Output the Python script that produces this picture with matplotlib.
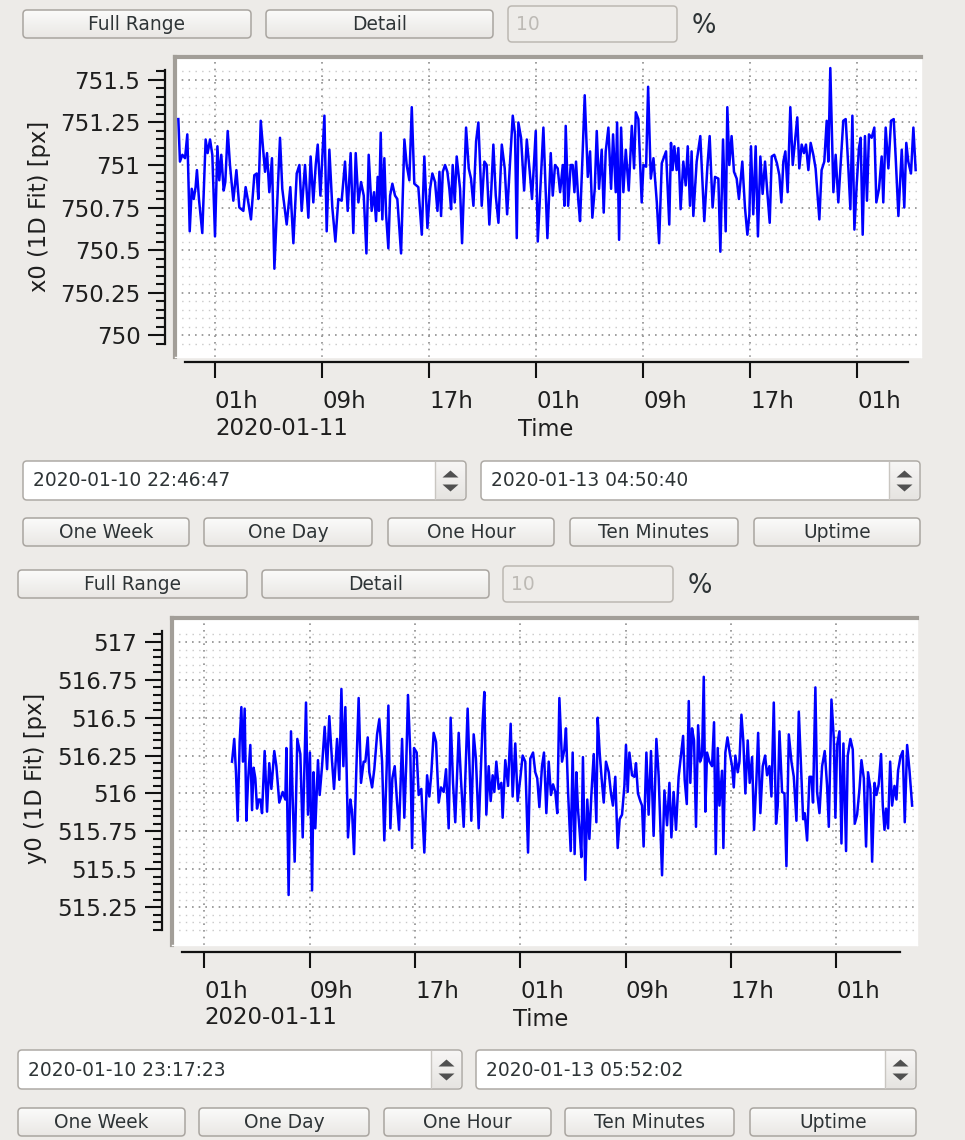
import numpy as np
import matplotlib
matplotlib.use('Agg')
import matplotlib.pyplot as plt
import matplotlib.dates as mdates
import matplotlib.transforms as mtransforms
from matplotlib.patches import FancyBboxPatch, Polygon
from matplotlib.ticker import FixedLocator, FixedFormatter
from matplotlib.colors import LinearSegmentedColormap

plt.rcParams['font.family'] = ['DejaVu Sans']

# ---------------- data (hours relative to 2020-01-11 01:00) ----------------
x0_hours = [
    -2.74, -2.62, -2.44, -2.24, -2.07, -1.89, -1.74, -1.59, -1.45, -1.35,
    -1.20, -0.95, -0.70, -0.55, -0.37, -0.20, 0.00, 0.18, 0.32, 0.47,
    0.65, 0.77, 0.95, 1.12, 1.37, 1.60, 1.82, 2.12, 2.29, 2.49,
    2.69, 2.94, 3.12, 3.24, 3.42, 3.61, 3.74, 3.89, 4.06, 4.26,
    4.44, 4.64, 4.86, 5.03, 5.36, 5.63, 5.86, 6.11, 6.31, 6.48,
    6.73, 6.98, 7.15, 7.35, 7.53, 7.68, 7.88, 8.18, 8.35, 8.55,
    8.77, 9.00, 9.22, 9.47, 9.72, 9.92, 10.14, 10.34, 10.52, 10.72,
    10.92, 11.12, 11.32, 11.49, 11.71, 11.89, 12.04, 12.16, 12.26, 12.39,
    12.51, 12.66, 12.79, 12.96, 13.09, 13.26, 13.46, 13.63, 13.91, 14.16,
    14.33, 14.53, 14.71, 14.90, 15.20,
    15.46, 15.65, 15.88, 16.08, 16.25, 16.45, 16.63, 16.78, 16.90, 17.03,
    17.20, 17.37, 17.52, 17.65, 17.77, 17.92, 18.07, 18.32, 18.47, 18.60,
    18.77, 18.97, 19.14, 19.32, 19.52, 19.69, 19.94, 20.14, 20.31, 20.51,
    20.66, 20.81, 20.99, 21.19, 21.44, 21.66, 21.84, 22.06, 22.26, 22.43,
    22.56, 22.68, 22.88, 23.11, 23.31, 23.53, 23.70, 23.98, 24.13, 24.30,
    24.55, 24.85, 25.10, 25.25, 25.42, 25.62, 25.80, 26.00, 26.12, 26.22,
    26.40, 26.59, 26.74, 26.87, 26.99, 27.17, 27.29, 27.47, 27.64, 27.87,
    28.04, 28.21, 28.39, 28.54, 28.71, 28.91, 29.06, 29.21, 29.41, 29.61,
    29.76, 29.96, 30.06, 30.21, 30.36, 30.53, 30.71, 30.93, 31.16, 31.33,
    31.46, 31.65, 31.90, 32.03, 32.23, 32.38, 32.58, 32.78, 33.03, 33.20, 33.40,
    33.72, 33.84, 33.96, 34.09, 34.21, 34.34, 34.51, 34.64, 34.81, 35.01,
    35.19, 35.34, 35.51, 35.63, 35.76, 36.01, 36.28, 36.58, 36.81, 36.98,
    37.20, 37.38, 37.63, 37.78, 37.98, 38.18, 38.30, 38.45, 38.62, 38.80,
    39.00, 39.17, 39.42, 39.62, 39.80, 39.95, 40.07, 40.24, 40.42, 40.59,
    40.77, 40.94, 41.12, 41.29, 41.47, 41.62, 41.81, 42.01, 42.19, 42.34,
    42.49, 42.64, 42.81, 43.01, 43.19, 43.36, 43.53, 43.68, 43.86, 44.03,
    44.18, 44.36, 44.53, 44.73, 44.90, 45.18, 45.35, 45.55, 45.73, 45.85,
    46.00, 46.23, 46.40, 46.60, 46.77, 46.97, 47.15, 47.35, 47.50, 47.65,
    47.80, 47.97, 48.14, 48.27, 48.42, 48.59, 48.74, 48.89, 49.09, 49.29,
    49.44, 49.64, 49.84, 49.96, 50.14, 50.34, 50.54, 50.74, 50.89, 51.09,
    51.34, 51.53, 51.68, 51.83, 52.03, 52.21, 52.38,
]
x0_values = [
    751.27, 751.02, 751.06, 751.04, 751.18, 750.61, 750.86, 750.80, 750.87, 750.97,
    750.80, 750.60, 751.15, 751.07, 751.15, 751.06, 750.58, 751.11, 750.91, 751.06,
    750.85, 750.90, 751.20, 751.00, 750.79, 750.97, 750.75, 750.73, 750.87, 750.78,
    750.68, 750.94, 750.95, 750.80, 751.26, 751.08, 750.96, 751.07, 750.84, 751.04,
    750.39, 750.76, 751.16, 750.86, 750.65, 750.87, 750.54, 750.95, 751.00, 750.73,
    751.00, 750.69, 751.05, 750.78, 751.00, 751.12, 750.82, 751.29, 750.61, 751.09,
    750.75, 750.55, 750.80, 750.79, 751.02, 750.73, 751.07, 750.60, 751.07, 750.78,
    750.90, 750.82, 750.48, 751.06, 750.73, 750.84, 750.67, 750.93, 750.73, 751.19,
    750.68, 751.04, 750.71, 750.51, 750.82, 750.89, 750.82, 750.80, 750.48, 751.15,
    751.00, 750.91, 751.34, 750.89, 750.87,
    750.59, 751.05, 750.63, 750.86, 750.95, 750.90, 750.73, 750.96, 750.70, 750.96,
    751.00, 750.96, 750.86, 750.74, 751.00, 750.78, 751.05, 750.86, 750.54, 750.84,
    751.22, 750.98, 750.92, 750.76, 751.14, 751.25, 750.76, 751.02, 751.00, 750.65,
    750.86, 751.12, 750.82, 750.66, 751.12, 750.98, 750.71, 751.02, 751.29, 751.18,
    750.57, 751.25, 751.16, 750.85, 751.15, 750.96, 750.80, 751.20, 750.55, 750.82,
    751.22, 750.57, 751.07, 750.82, 751.00, 750.98, 750.84, 751.00, 750.76, 751.23,
    750.76, 751.00, 751.00, 750.84, 751.02, 750.78, 750.67, 751.04, 751.41, 750.93,
    751.08, 750.69, 750.86, 751.20, 750.86, 751.09, 750.72, 751.08, 751.22, 750.86,
    751.18, 750.84, 751.25, 750.56, 751.22, 750.84, 751.09, 750.85, 751.23, 750.98,
    751.31, 751.27, 750.78, 751.00, 750.99, 751.46, 750.92, 751.04, 750.78, 750.54, 751.01,
    751.08, 750.86, 750.65, 751.13, 750.97, 751.11, 750.97, 751.10, 750.74, 751.02,
    750.88, 751.11, 750.76, 751.08, 750.70, 751.02, 751.17, 750.67, 750.99, 751.17,
    750.75, 750.93, 750.92, 750.49, 751.15, 750.61, 751.34, 751.00, 751.17, 750.96,
    750.92, 750.80, 751.02, 750.75, 750.59, 750.71, 751.11, 750.71, 751.11, 750.58,
    751.05, 750.83, 751.02, 750.84, 750.66, 751.05, 751.06, 751.01, 750.94, 750.78,
    751.02, 751.08, 750.84, 751.34, 751.00, 751.14, 751.28, 750.98, 751.12, 751.07,
    751.12, 750.97, 751.13, 751.06, 750.98, 750.68, 750.97, 751.02, 751.26, 751.02,
    751.57, 750.84, 751.06, 750.78, 751.00, 751.26, 751.27, 750.98, 750.74, 751.29,
    750.62, 750.88, 751.10, 751.16, 750.59, 751.17, 750.79, 751.18, 751.16, 751.22,
    750.78, 750.86, 751.05, 750.78, 751.22, 750.98, 751.26, 751.27, 751.04, 750.70,
    751.09, 750.75, 751.13, 751.02, 750.95, 751.22, 750.97,
]

y0_hours = [
    2.10, 2.27, 2.40, 2.53, 2.68, 2.81, 2.93, 3.06, 3.19, 3.31,
    3.49, 3.62, 3.74, 3.87, 4.00, 4.12, 4.25, 4.38, 4.58, 4.76,
    4.93, 5.09, 5.31, 5.47, 5.69, 5.95, 6.15, 6.23, 6.40, 6.58,
    6.71, 6.86, 7.06, 7.29, 7.47, 7.72, 7.87, 8.02, 8.18, 8.30,
    8.43, 8.63, 8.76, 8.94, 9.14, 9.32, 9.49, 9.70, 9.85, 10.08,
    10.25, 10.41, 10.56, 10.71, 10.91, 11.09, 11.22, 11.37, 11.52, 11.72,
    11.90, 12.10, 12.23, 12.41, 12.53, 12.74, 12.91, 13.12, 13.29, 13.50,
    13.67, 13.85, 13.98, 14.13, 14.28, 14.46, 14.64, 14.79, 15.02, 15.19,
    15.34, 15.47, 15.65, 15.78, 15.93, 16.13, 16.28, 16.48, 16.71, 16.92,
    17.09, 17.24, 17.42, 17.60, 17.80, 17.98, 18.18, 18.36, 18.56, 18.71,
    18.89, 19.06, 19.32, 19.49, 19.70, 20.00, 20.28, 20.46, 20.63, 20.84,
    21.14, 21.27, 21.42, 21.60, 21.75, 21.90, 22.03, 22.18, 22.36, 22.56,
    22.66, 22.86, 23.07, 23.27, 23.42, 23.62, 23.80, 24.00, 24.18, 24.38,
    24.59, 24.76, 24.97, 25.14, 25.29, 25.45, 25.65, 25.80, 25.98, 26.16,
    26.33, 26.49, 26.66, 26.81, 26.97, 27.17, 27.35, 27.47, 27.63, 27.83,
    27.98, 28.13, 28.26, 28.38, 28.51, 28.64, 28.76, 28.94, 29.09, 29.25,
    29.40, 29.58, 29.78, 29.88, 30.03, 30.18, 30.34, 30.51, 30.72, 30.89,
    31.04, 31.22, 31.40, 31.55, 31.73, 31.91, 32.03, 32.16, 32.29, 32.49,
    32.67, 32.79, 32.94, 33.12, 33.25, 33.37, 33.58, 33.75, 33.93, 34.13,
    34.34, 34.51, 34.77, 34.95, 35.15, 35.33, 35.48, 35.65, 35.83, 36.03,
    36.37, 36.49, 36.65, 36.80, 36.92, 37.05, 37.20, 37.35, 37.51, 37.66,
    37.81, 37.94, 38.06, 38.19, 38.37, 38.57, 38.72, 38.85, 39.00, 39.13,
    39.33, 39.43, 39.58, 39.74, 39.91, 40.09, 40.22, 40.34, 40.52, 40.65,
    40.80, 40.95, 41.10, 41.28, 41.43, 41.61, 41.76, 41.94, 42.07, 42.24,
    42.42, 42.60, 42.75, 42.93, 43.08, 43.26, 43.43, 43.56, 43.69, 43.89,
    44.07, 44.22, 44.40, 44.60, 44.78, 44.98, 45.16, 45.33, 45.49, 45.61,
    45.79, 45.97, 46.12, 46.24, 46.42, 46.55, 46.73, 46.93, 47.13, 47.31,
    47.44, 47.64, 47.82, 47.94, 48.07, 48.25, 48.40, 48.55, 48.75, 48.88,
    49.08, 49.26, 49.41, 49.59, 49.77, 49.92, 50.10, 50.27, 50.42, 50.60,
    50.73, 50.91, 51.06, 51.23, 51.41, 51.54, 51.67, 51.79, 51.94, 52.10,
    52.25, 52.43, 52.58, 52.70, 52.88, 53.06, 53.21, 53.39, 53.57, 53.77,
]
y0_values = [
    516.21, 516.36, 516.14, 515.82, 516.34, 516.57, 516.21, 516.56, 515.82, 516.07,
    516.32, 515.89, 516.17, 516.10, 515.90, 515.96, 515.96, 515.87, 516.28, 515.88,
    516.20, 516.03, 516.28, 516.18, 515.94, 516.01, 515.96, 516.30, 515.33, 516.41,
    515.96, 515.55, 516.36, 516.26, 515.71, 516.60, 515.86, 516.27, 515.36, 516.14,
    515.77, 516.22, 515.99, 516.18, 516.44, 516.16, 516.51, 516.21, 516.03, 516.36,
    516.09, 516.69, 516.18, 516.57, 515.71, 515.96, 515.88, 515.60, 516.09, 516.63,
    516.07, 516.21, 516.21, 516.37, 516.14, 516.04, 516.16, 516.39, 516.49, 516.21,
    515.69, 516.17, 516.58, 515.77, 516.10, 516.18, 515.94, 515.76, 516.36, 515.84,
    516.21, 516.65, 516.25, 515.64, 516.30, 516.27, 515.99, 516.03, 515.61, 516.12,
    515.98, 516.13, 516.40, 516.34, 515.94, 516.04, 516.01, 516.16, 515.77, 516.50,
    516.07, 515.81, 516.40, 516.10, 515.78, 516.56, 515.82, 516.39, 516.23, 515.77,
    516.47, 516.67, 515.86, 516.18, 515.95, 516.12, 516.01, 516.21, 516.03, 516.07,
    515.84, 516.22, 516.05, 516.46, 515.98, 516.33, 515.95, 516.10, 516.25, 516.21,
    515.61, 516.23, 516.27, 516.14, 516.10, 515.91, 516.18, 516.27, 515.87, 516.21,
    515.99, 516.06, 516.01, 515.87, 516.63, 516.21, 516.29, 516.43, 516.01, 515.62,
    516.27, 515.60, 516.14, 515.90, 515.75, 515.58, 516.24, 515.43, 515.96, 515.70,
    515.99, 516.26, 515.81, 516.50, 516.27, 516.10, 515.94, 516.21, 516.14, 516.00,
    515.92, 516.11, 515.64, 515.83, 515.86, 516.05, 516.32, 516.01, 516.27, 516.12,
    516.11, 516.20, 516.00, 515.95, 515.92, 515.65, 516.27, 515.86, 516.28, 515.72,
    516.36, 516.12, 515.46, 516.02, 515.79, 516.07, 515.71, 516.01, 515.76, 516.11,
    516.38, 516.09, 515.93, 516.61, 516.07, 516.43, 516.35, 515.78, 516.45, 516.21,
    516.25, 516.77, 515.88, 516.27, 516.21, 516.18, 516.47, 515.60, 516.30, 515.92,
    516.15, 515.64, 516.27, 516.37, 516.27, 516.18, 516.04, 516.25, 516.14, 516.21,
    516.52, 516.34, 516.00, 516.35, 516.07, 516.24, 515.76, 516.09, 516.40, 515.87,
    516.18, 516.25, 516.12, 516.18, 515.98, 516.60, 515.80, 515.92, 516.41, 516.01,
    516.00, 515.52, 516.39, 516.21, 516.11, 515.82, 516.54, 516.18, 515.83, 515.87,
    515.69, 516.11, 516.11, 515.94, 516.70, 516.01, 515.87, 516.18, 516.28, 516.05,
    515.78, 516.62, 516.36, 515.84, 516.32, 516.41, 515.67, 516.33, 515.62, 516.25,
    516.36, 516.29, 515.80, 515.86, 516.03, 516.22, 516.10, 515.65, 516.14, 516.03,
    515.55, 516.07, 515.99, 516.06, 516.26, 515.92, 515.76, 515.90, 515.77, 516.21,
    515.92, 516.05, 515.96, 516.15, 516.24, 516.28, 515.81, 516.32, 516.15, 515.92,
]

x0_yticks = [750.0, 750.25, 750.5, 750.75, 751.0, 751.25, 751.5]
x0_yticklabels = ['750', '750.25', '750.5', '750.75', '751', '751.25', '751.5']
y0_yticks = [515.25, 515.5, 515.75, 516.0, 516.25, 516.5, 516.75, 517.0]
y0_yticklabels = ['515.25', '515.5', '515.75', '516', '516.25', '516.5', '516.75', '517']

x0_ylabel = 'x0 (1D Fit) [px]'
y0_ylabel = 'y0 (1D Fit) [px]'
x0_range = ('2020-01-10 22:46:47', '2020-01-13 04:50:40')
y0_range = ('2020-01-10 23:17:23', '2020-01-13 05:52:02')
range_buttons = ['One Week', 'One Day', 'One Hour', 'Ten Minutes', 'Uptime']
percent_value = '10'

# ---------------- layout ----------------
W, H = 965, 1140
BG = '#edebe8'
TXT = '#2e3436'
AX_TXT = '#1e1e1e'
REF = np.datetime64('2020-01-11T01:00:00')

fig = plt.figure(figsize=(W / 100, H / 100), dpi=100)
fig.patch.set_facecolor(BG)
bg = fig.add_axes([0, 0, 1, 1], zorder=0)
bg.set_xlim(0, W)
bg.set_ylim(H, 0)
bg.set_autoscale_on(False)
bg.axis('off')

btn_cmap = LinearSegmentedColormap.from_list('btn', ['#fbfbfa', '#e9e7e4'])
arr_cmap = LinearSegmentedColormap.from_list('arr', ['#f7f6f5', '#e6e4e1'])
grad = np.linspace(0, 1, 64).reshape(-1, 1)


def frac(x0, y0, x1, y1):
    return [x0 / W, 1 - y1 / H, (x1 - x0) / W, (y1 - y0) / H]


def rbox(x0, y0, x1, y1, fc, ec, cmap=None, r=4, z=2):
    p = FancyBboxPatch((x0, y0), x1 - x0, y1 - y0,
                       boxstyle='round,pad=0,rounding_size=%g' % r,
                       fc=fc, ec='none', zorder=z)
    bg.add_patch(p)
    if cmap is not None:
        bg.imshow(grad, extent=[x0, x1, y1, y0], cmap=cmap, aspect='auto',
                  zorder=z + 0.1, clip_path=p, interpolation='bilinear')
    bg.add_patch(FancyBboxPatch((x0, y0), x1 - x0, y1 - y0,
                                boxstyle='round,pad=0,rounding_size=%g' % r,
                                fc='none', ec=ec, lw=1.1, zorder=z + 0.2))


def button(x0, y0, x1, y1, label):
    rbox(x0, y0, x1, y1, '#f4f3f1', '#a9a5a0', btn_cmap)
    bg.text((x0 + x1) / 2, (y0 + y1) / 2 + 0.5, label, ha='center', va='center',
            fontsize=13.4, color=TXT, zorder=3)


def spinbox(x0, y0, x1, y1, div, label):
    rbox(x0, y0, x1, y1, '#ffffff', '#aeaaa5', None)
    p = FancyBboxPatch((div, y0 + 1), x1 - div - 1, y1 - y0 - 2,
                       boxstyle='round,pad=0,rounding_size=3', fc='#f2f1ef', ec='none', zorder=2.3)
    bg.add_patch(p)
    bg.imshow(grad, extent=[div, x1 - 1, y1 - 1, y0 + 1], cmap=arr_cmap, aspect='auto',
              zorder=2.35, clip_path=p, interpolation='bilinear')
    bg.plot([div, div], [y0 + 1, y1 - 1], color='#c9c6c1', lw=1, zorder=2.4)
    cxm = (div + x1) / 2
    ym = (y0 + y1) / 2
    bg.add_patch(Polygon([[cxm - 8, ym - 3], [cxm + 8, ym - 3], [cxm, ym - 10]],
                         closed=True, fc='#505050', ec='none', zorder=2.5))
    bg.add_patch(Polygon([[cxm - 8, ym + 4], [cxm + 8, ym + 4], [cxm, ym + 11]],
                         closed=True, fc='#505050', ec='none', zorder=2.5))
    bg.text(x0 + 10, ym + 0.5, label, ha='left', va='center', fontsize=13.4,
            color=TXT, zorder=3)


def to_num(hours):
    h = np.asarray(hours, dtype=float)
    return mdates.date2num(REF + np.round(h * 3600).astype('timedelta64[s]'))


def draw_panel(L, hours, values, yticks, yticklabels, ylabel, trange):
    fx0, fx1 = L['full']
    dx0, dx1 = L['detail']
    ry0, ry1 = L['row1']
    button(fx0, ry0, fx1, ry1, 'Full Range')
    button(dx0, ry0, dx1, ry1, 'Detail')
    tx0, ty0, tx1, ty1 = L['field']
    rbox(tx0, ty0, tx1, ty1, '#eeece9', '#bcb8b2', None)
    bg.text(tx0 + 8, (ty0 + ty1) / 2 + 0.5, percent_value, ha='left', va='center',
            fontsize=13.4, color='#bdbab5', zorder=3)
    bg.text(L['pct'][0], L['pct'][1], '%', ha='center', va='center', fontsize=18.5,
            color=TXT, zorder=3)

    # canvas
    c0, c1, c2, c3 = L['canvas']
    ax = fig.add_axes(frac(c0, c1, c2, c3), zorder=2)
    ax.set_facecolor('white')
    xl = to_num(L['xview'])
    ax.set_xlim(*xl)
    ax.set_ylim(*L['yview'])
    t_start = mdates.date2num(np.datetime64(trange[0].replace(' ', 'T')))
    t_end = mdates.date2num(np.datetime64(trange[1].replace(' ', 'T')))
    loc = mdates.HourLocator(byhour=[1, 9, 17])
    xt = [t for t in loc.tick_values(mdates.num2date(xl[0]), mdates.num2date(xl[1]))
          if t_start <= t <= t_end]
    ymaj = list(yticks)
    ymin_tick, ymax_tick = L['ytickrange']
    ymin = [v for v in np.round(np.arange(ymin_tick, ymax_tick + 1e-6, 0.05), 2)
            if not np.any(np.isclose(v, ymaj))]
    ax.xaxis.set_major_locator(FixedLocator(xt))
    ax.yaxis.set_major_locator(FixedLocator(ymaj))
    ax.yaxis.set_minor_locator(FixedLocator(ymin))
    ax.tick_params(which='both', length=0, labelbottom=False, labelleft=False)
    ax.grid(True, which='major', axis='both', color='#8f8f8f', lw=1.2,
            linestyle=(0, (1, 3)))
    ax.grid(True, which='minor', axis='y', color='#c9c9c9', lw=1.0,
            linestyle=(0, (1, 3.8)))
    ax.plot(to_num(hours), values, color='#0000ff', lw=1.8, zorder=3)
    for s in ('top', 'left'):
        ax.spines[s].set_color('#a29e98')
        ax.spines[s].set_linewidth(3.0)
    for s in ('bottom', 'right'):
        ax.spines[s].set_color('#ffffff')
        ax.spines[s].set_linewidth(1.0)

    # y scale
    bx = L['ybackbone']
    sy = fig.add_axes(frac(bx, c1, bx + 1, c3), zorder=2)
    sy.set_ylim(*L['yview'])
    sy.patch.set_visible(False)
    for s in ('top', 'right', 'bottom'):
        sy.spines[s].set_visible(False)
    sy.spines['left'].set_bounds(*L['ybounds'])
    sy.spines['left'].set_linewidth(1.6)
    sy.spines['left'].set_color('#111111')
    sy.xaxis.set_visible(False)
    sy.yaxis.set_major_locator(FixedLocator(ymaj))
    sy.yaxis.set_major_formatter(FixedFormatter(yticklabels))
    sy.yaxis.set_minor_locator(FixedLocator(ymin))
    sy.tick_params(axis='y', which='major', direction='out', length=17 * 0.72,
                   width=1.5, color='#111111', labelsize=16.5, labelcolor=AX_TXT,
                   pad=L['ypad'])
    sy.tick_params(axis='y', which='minor', direction='out', length=9 * 0.72,
                   width=1.5, color='#111111')
    bg.text(L['ylabel_pos'][0], L['ylabel_pos'][1], ylabel, rotation=90,
            ha='center', va='center', fontsize=16.3, color=AX_TXT, zorder=3)

    # x scale
    yb = L['xbackbone']
    sx = fig.add_axes(frac(c0, yb - 1, c2, yb), zorder=2)
    sx.set_xlim(*xl)
    sx.patch.set_visible(False)
    for s in ('top', 'right', 'left'):
        sx.spines[s].set_visible(False)
    sx.spines['bottom'].set_bounds(t_start, t_end)
    sx.spines['bottom'].set_linewidth(1.6)
    sx.spines['bottom'].set_color('#111111')
    sx.yaxis.set_visible(False)
    labels = [mdates.num2date(t).strftime('%Hh') for t in xt]
    sx.xaxis.set_major_locator(FixedLocator(xt))
    sx.xaxis.set_major_formatter(FixedFormatter(labels))
    sx.tick_params(axis='x', direction='out', length=16 * 0.72, width=1.5,
                   color='#111111', labelsize=16.5, labelcolor=AX_TXT, pad=L['xpad'])
    for lab in sx.get_xticklabels():
        lab.set_ha('left')
    date_tr = mtransforms.blended_transform_factory(sx.transData, fig.transFigure)
    sx.text(xt[0], 1 - L['date_y'] / H, mdates.num2date(xt[0]).strftime('%Y-%m-%d'),
            transform=date_tr, ha='left', va='center', fontsize=16.5, color=AX_TXT)
    bg.text(L['time_pos'][0], L['time_pos'][1], 'Time', ha='center', va='center',
            fontsize=16.3, color=AX_TXT, zorder=3)

    spinbox(*L['spin1'], trange[0])
    spinbox(*L['spin2'], trange[1])
    by0, by1 = L['row3']
    for (bx0, bx1), lab in zip(L['row3x'], range_buttons):
        button(bx0, by0, bx1, by1, lab)


top_layout = dict(
    full=(23, 251), detail=(266, 493), row1=(10, 38), field=(508, 6, 677, 42), pct=(704, 26),
    canvas=(175, 57, 921, 357), xview=(-2.99, 52.78), yview=(749.871, 751.635),
    ytickrange=(749.95, 751.55), ybounds=(749.95, 751.56), ybackbone=165, ypad=5.4,
    ylabel_pos=(40, 206), xbackbone=362, xpad=9, date_y=428, time_pos=(546, 430),
    spin1=(23, 461, 466, 500, 435), spin2=(481, 461, 920, 500, 889),
    row3=(518, 546), row3x=[(23, 189), (204, 372), (388, 554), (570, 738), (754, 920)],
)
bottom_layout = dict(
    full=(18, 247), detail=(262, 489), row1=(570, 598), field=(503, 566, 673, 602), pct=(700, 586),
    canvas=(172, 618, 917, 945), xview=(-2.46, 54.14), yview=(515.0, 517.158),
    ytickrange=(515.10, 517.05), ybounds=(515.10, 517.07), ybackbone=162, ypad=5.4,
    ylabel_pos=(36, 778), xbackbone=952, xpad=9, date_y=1018, time_pos=(541, 1020),
    spin1=(18, 1050, 462, 1089, 431), spin2=(476, 1050, 916, 1089, 885),
    row3=(1108, 1136), row3x=[(18, 185), (199, 369), (384, 551), (565, 734), (750, 916)],
)

draw_panel(top_layout, x0_hours, x0_values, x0_yticks, x0_yticklabels, x0_ylabel, x0_range)
draw_panel(bottom_layout, y0_hours, y0_values, y0_yticks, y0_yticklabels, y0_ylabel, y0_range)

fig.savefig('out.png', dpi=100, facecolor=BG)
